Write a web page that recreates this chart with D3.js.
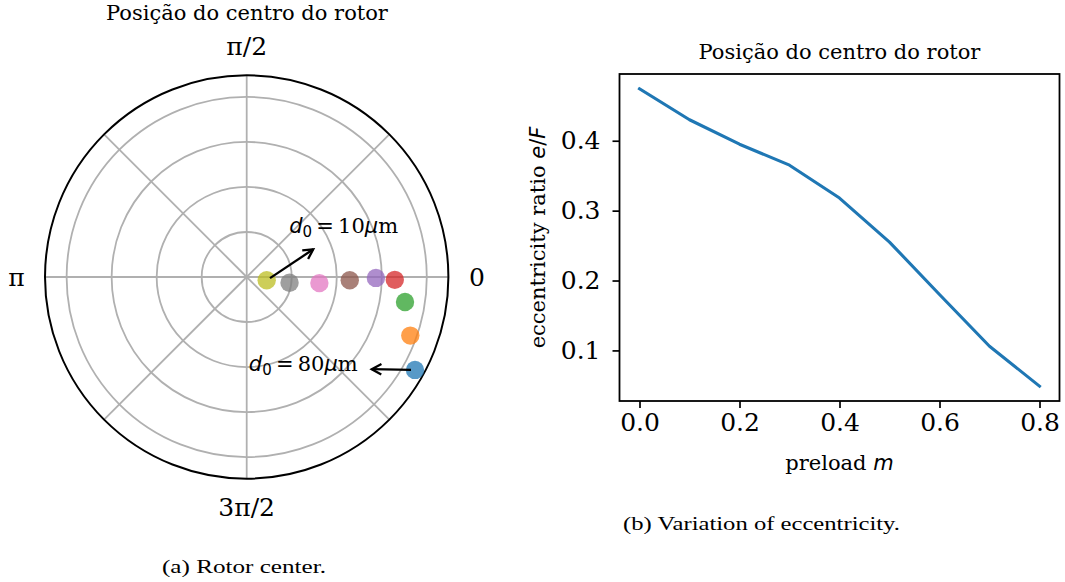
<!DOCTYPE html>
<html>
<head>
<meta charset="utf-8">
<script src="https://cdn.jsdelivr.net/npm/d3@7"></script>
<style>
  html, body { margin: 0; padding: 0; background: #fff; }
  svg { display: block; }
</style>
</head>
<body>
<script>
// ---- data ----
const preload = [0.0, 0.1, 0.2, 0.3, 0.4, 0.5, 0.6, 0.7, 0.8];
const eccRatio = [0.4742, 0.430, 0.395, 0.365, 0.318, 0.255, 0.180, 0.106, 0.0489];

// rotor centre in polar coordinates (radius, angle in degrees)
const rotorRadius = [4.27, 3.86, 3.56, 3.29, 2.87, 2.29, 1.62, 0.96, 0.45];
const rotorAngle = [-28.9, -19.7, -9.0, -1.1, -0.4, -1.8, -4.8, -7.6, -9.4];

const ringTicks = [1, 2, 3, 4];
const radialMax = 4.48;
const angleGrid = [0, 45, 90, 135, 180, 225, 270, 315];
const angleLabels = [
  { deg: 0, text: "0" },
  { deg: 90, text: "\u03c0/2" },
  { deg: 180, text: "\u03c0" },
  { deg: 270, text: "3\u03c0/2" }
];

const xTicks = [0.0, 0.2, 0.4, 0.6, 0.8];
const yTicks = [0.1, 0.2, 0.3, 0.4];

const chartTitle = "Posi\u00e7\u00e3o do centro do rotor";
const captionA = "(a) Rotor center.";
const captionB = "(b) Variation of eccentricity.";

// annotations: which point, where the arrow head sits (polar), label value
const notes = [
  { idx: 8, headR: 1.60, headDeg: 22.6, value: "10", anchor: "start", dx: -24, dy: -16 },
  { idx: 0, headR: 3.45, headDeg: -36.4, value: "80", anchor: "end", dx: -14, dy: 1.5 }
];

(function draw() {
  const W = 1065, H = 582;
  const svg = d3.select("body").append("svg").attr("width", W).attr("height", H);
  svg.append("rect").attr("width", W).attr("height", H).attr("fill", "#fff");

  const SERIF = "'DejaVu Serif', serif";
  const SANS = "'DejaVu Sans', sans-serif";
  const colors = d3.schemeCategory10;

  // ---- polar panel ----
  const cx = 246.7, cy = 277, R = 201.7;
  const rScale = d3.scaleLinear().domain([0, radialMax]).range([0, R]);
  const toXY = (r, deg) => {
    const a = deg * Math.PI / 180;
    return [cx + rScale(r) * Math.cos(a), cy - rScale(r) * Math.sin(a)];
  };

  const polar = svg.append("g");
  polar.selectAll("circle.ring").data(ringTicks).join("circle")
    .attr("class", "ring")
    .attr("cx", cx).attr("cy", cy).attr("r", d => rScale(d))
    .attr("fill", "none").attr("stroke", "#b0b0b0").attr("stroke-width", 1.8);

  polar.selectAll("line.spoke").data(angleGrid).join("line")
    .attr("class", "spoke")
    .attr("x1", cx).attr("y1", cy)
    .attr("x2", d => toXY(radialMax, d)[0])
    .attr("y2", d => toXY(radialMax, d)[1])
    .attr("stroke", "#b0b0b0").attr("stroke-width", 1.8);

  polar.append("circle")
    .attr("cx", cx).attr("cy", cy).attr("r", R)
    .attr("fill", "none").attr("stroke", "#000").attr("stroke-width", 2);

  polar.selectAll("text.alabel").data(angleLabels).join("text")
    .attr("class", "alabel")
    .attr("x", d => cx + (R + 28.5) * Math.cos(d.deg * Math.PI / 180))
    .attr("y", d => cy - (R + 28.5) * Math.sin(d.deg * Math.PI / 180))
    .attr("text-anchor", "middle")
    .attr("dominant-baseline", "central")
    .attr("font-family", SERIF).attr("font-size", 25)
    .text(d => d.text);

  polar.selectAll("circle.pt").data(rotorRadius).join("circle")
    .attr("class", "pt")
    .attr("cx", (d, i) => toXY(d, rotorAngle[i])[0])
    .attr("cy", (d, i) => toXY(d, rotorAngle[i])[1])
    .attr("r", 9.2)
    .attr("fill", (d, i) => colors[i])
    .attr("fill-opacity", 0.75);

  // arrows with open heads
  function arrow(g, x1, y1, x2, y2) {
    const ang = Math.atan2(y2 - y1, x2 - x1);
    const L = 11, spread = 0.5;
    g.append("line").attr("x1", x1).attr("y1", y1).attr("x2", x2).attr("y2", y2)
      .attr("stroke", "#000").attr("stroke-width", 2.3);
    g.append("path")
      .attr("d", `M${x2 - L * Math.cos(ang - spread)},${y2 - L * Math.sin(ang - spread)}L${x2},${y2}L${x2 - L * Math.cos(ang + spread)},${y2 - L * Math.sin(ang + spread)}`)
      .attr("fill", "none").attr("stroke", "#000").attr("stroke-width", 2.3)
      .attr("stroke-linejoin", "miter");
  }

  function mathLabel(g, x, y, value, anchor) {
    const t = g.append("text").attr("x", x).attr("y", y)
      .attr("text-anchor", anchor).attr("font-size", 21).attr("fill", "#000");
    t.append("tspan").attr("font-family", SANS).attr("font-style", "italic").text("d");
    t.append("tspan").attr("font-family", SANS).attr("font-size", 15).attr("dy", 4).text("0");
    t.append("tspan").attr("font-family", SANS).attr("dy", -4).text("\u2009=\u2009");
    t.append("tspan").attr("font-family", SERIF).text(value);
    t.append("tspan").attr("font-family", SANS).attr("font-style", "italic").text("\u03bc");
    t.append("tspan").attr("font-family", SERIF).text("m");
  }

  notes.forEach(n => {
    const [px, py] = toXY(rotorRadius[n.idx], rotorAngle[n.idx]);
    const [hx, hy] = toXY(n.headR, n.headDeg);
    const ang = Math.atan2(hy - py, hx - px);
    const g = polar.append("g");
    arrow(g, px + 4 * Math.cos(ang), py + 4 * Math.sin(ang), hx, hy);
    mathLabel(g, hx + n.dx, hy + n.dy, n.value, n.anchor);
  });

  svg.append("text").attr("x", 247).attr("y", 19.5)
    .attr("text-anchor", "middle").attr("font-family", SERIF).attr("font-size", 21)
    .text(chartTitle);

  // ---- line panel ----
  const pl = 619.5, pr = 1059.5, pt = 74, pb = 401;
  const xPad = 0.05 * (d3.max(preload) - d3.min(preload));
  const [eMin, eMax] = d3.extent(eccRatio);
  const yPad = 0.05 * (eMax - eMin);
  const x = d3.scaleLinear().domain([d3.min(preload) - xPad, d3.max(preload) + xPad]).range([pl, pr]);
  const y = d3.scaleLinear().domain([eMin - yPad, eMax + yPad]).range([pb, pt]);

  const panel = svg.append("g");

  const xAxis = panel.append("g").attr("transform", `translate(0,${pb})`)
    .call(d3.axisBottom(x).tickValues(xTicks).tickFormat(d3.format(".1f")).tickSize(7).tickPadding(5));
  const yAxis = panel.append("g").attr("transform", `translate(${pl},0)`)
    .call(d3.axisLeft(y).tickValues(yTicks).tickFormat(d3.format(".1f")).tickSize(7).tickPadding(12));
  [xAxis, yAxis].forEach(a => {
    a.select(".domain").remove();
    a.selectAll(".tick line").attr("stroke", "#000").attr("stroke-width", 1.7);
    a.selectAll(".tick text").attr("font-family", SERIF).attr("font-size", 25).attr("fill", "#000");
  });

  panel.append("path")
    .datum(preload.map((m, i) => [m, eccRatio[i]]))
    .attr("d", d3.line().x(d => x(d[0])).y(d => y(d[1])))
    .attr("fill", "none").attr("stroke", colors[0]).attr("stroke-width", 3.1)
    .attr("stroke-linejoin", "round").attr("stroke-linecap", "square");

  panel.append("rect")
    .attr("x", pl).attr("y", pt).attr("width", pr - pl).attr("height", pb - pt)
    .attr("fill", "none").attr("stroke", "#000").attr("stroke-width", 1.8);

  svg.append("text").attr("x", (pl + pr) / 2).attr("y", 58.5)
    .attr("text-anchor", "middle").attr("font-family", SERIF).attr("font-size", 21)
    .text(chartTitle);

  const xl = svg.append("text").attr("x", (pl + pr) / 2).attr("y", 470)
    .attr("text-anchor", "middle").attr("font-size", 21);
  xl.append("tspan").attr("font-family", SERIF).text("preload ");
  xl.append("tspan").attr("font-family", SANS).attr("font-style", "italic").text("m");

  const yl = svg.append("text")
    .attr("transform", `translate(545,${(pt + pb) / 2}) rotate(-90)`)
    .attr("text-anchor", "middle").attr("font-size", 21);
  yl.append("tspan").attr("font-family", SERIF).text("eccentricity ratio ");
  yl.append("tspan").attr("font-family", SANS).attr("font-style", "italic").text("e");
  yl.append("tspan").attr("font-family", SANS).text("/");
  yl.append("tspan").attr("font-family", SANS).attr("font-style", "italic").text("F");

  // ---- captions ----
  svg.append("text").attr("x", 162).attr("y", 573)
    .attr("font-family", "'Liberation Serif', serif").attr("font-size", 19)
    .attr("textLength", 164).attr("lengthAdjust", "spacingAndGlyphs")
    .text(captionA);
  svg.append("text").attr("x", 623).attr("y", 530)
    .attr("font-family", "'Liberation Serif', serif").attr("font-size", 19)
    .attr("textLength", 277).attr("lengthAdjust", "spacingAndGlyphs")
    .text(captionB);
})();
</script>
</body>
</html>
